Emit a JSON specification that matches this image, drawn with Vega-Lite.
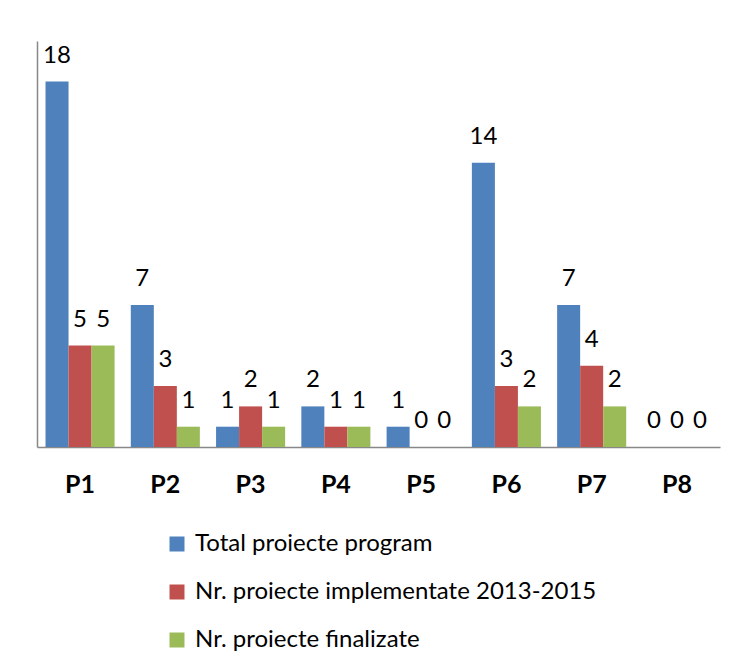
{
  "$schema": "https://vega.github.io/schema/vega-lite/v6.json",
  "width": 683,
  "height": 406,
  "autosize": {"type": "none"},
  "padding": {"left": 37, "top": 41, "right": 23, "bottom": 224},
  "background": "white",
  "config": {
    "view": {"stroke": null},
    "font": "Lato"
  },
  "data": {
    "values": [
      {"cat": "P1", "serie": "Total proiecte program", "o": 1, "v": 18},
      {"cat": "P1", "serie": "Nr. proiecte implementate 2013-2015", "o": 2, "v": 5},
      {"cat": "P1", "serie": "Nr. proiecte finalizate", "o": 3, "v": 5},
      {"cat": "P2", "serie": "Total proiecte program", "o": 1, "v": 7},
      {"cat": "P2", "serie": "Nr. proiecte implementate 2013-2015", "o": 2, "v": 3},
      {"cat": "P2", "serie": "Nr. proiecte finalizate", "o": 3, "v": 1},
      {"cat": "P3", "serie": "Total proiecte program", "o": 1, "v": 1},
      {"cat": "P3", "serie": "Nr. proiecte implementate 2013-2015", "o": 2, "v": 2},
      {"cat": "P3", "serie": "Nr. proiecte finalizate", "o": 3, "v": 1},
      {"cat": "P4", "serie": "Total proiecte program", "o": 1, "v": 2},
      {"cat": "P4", "serie": "Nr. proiecte implementate 2013-2015", "o": 2, "v": 1},
      {"cat": "P4", "serie": "Nr. proiecte finalizate", "o": 3, "v": 1},
      {"cat": "P5", "serie": "Total proiecte program", "o": 1, "v": 1},
      {"cat": "P5", "serie": "Nr. proiecte implementate 2013-2015", "o": 2, "v": 0},
      {"cat": "P5", "serie": "Nr. proiecte finalizate", "o": 3, "v": 0},
      {"cat": "P6", "serie": "Total proiecte program", "o": 1, "v": 14},
      {"cat": "P6", "serie": "Nr. proiecte implementate 2013-2015", "o": 2, "v": 3},
      {"cat": "P6", "serie": "Nr. proiecte finalizate", "o": 3, "v": 2},
      {"cat": "P7", "serie": "Total proiecte program", "o": 1, "v": 7},
      {"cat": "P7", "serie": "Nr. proiecte implementate 2013-2015", "o": 2, "v": 4},
      {"cat": "P7", "serie": "Nr. proiecte finalizate", "o": 3, "v": 2},
      {"cat": "P8", "serie": "Total proiecte program", "o": 1, "v": 0},
      {"cat": "P8", "serie": "Nr. proiecte implementate 2013-2015", "o": 2, "v": 0},
      {"cat": "P8", "serie": "Nr. proiecte finalizate", "o": 3, "v": 0}
    ]
  },
  "encoding": {
    "x": {
      "field": "cat", "type": "nominal", "title": null,
      "scale": {"paddingInner": 0.19, "paddingOuter": 0.1},
      "axis": {
        "labelAngle": 0, "ticks": false, "tickSize": 0,
        "labelFont": "Lato", "labelFontSize": 25, "labelFontWeight": "bold",
        "labelColor": "black", "labelBaseline": "alphabetic", "labelPadding": 45,
        "domainColor": "#888888", "domainWidth": 1.5
      }
    },
    "xOffset": {
      "field": "serie", "type": "nominal",
      "sort": ["Total proiecte program", "Nr. proiecte implementate 2013-2015", "Nr. proiecte finalizate"],
      "scale": {"paddingInner": 0, "paddingOuter": 0}
    },
    "y": {
      "field": "v", "type": "quantitative", "title": null,
      "scale": {"domain": [0, 20], "nice": false},
      "axis": {"labels": false, "ticks": false, "grid": false, "domainColor": "#888888", "domainWidth": 1.5}
    }
  },
  "layer": [
    {
      "mark": {"type": "bar"},
      "encoding": {
        "color": {
          "field": "serie", "type": "nominal",
          "sort": ["Total proiecte program", "Nr. proiecte implementate 2013-2015", "Nr. proiecte finalizate"],
          "scale": {
            "domain": ["Total proiecte program", "Nr. proiecte implementate 2013-2015", "Nr. proiecte finalizate"],
            "range": ["#4F81BD", "#C0504D", "#9BBB59"]
          },
          "legend": {
            "title": null, "orient": "none", "legendX": 128, "legendY": 491,
            "direction": "vertical", "symbolType": "square", "symbolSize": 225,
            "symbolStrokeWidth": 0, "symbolOpacity": 1,
            "labelFont": "Lato", "labelFontSize": 24, "labelColor": "black",
            "labelOffset": 6, "rowPadding": 24, "padding": 0, "labelLimit": 500
          }
        }
      }
    },
    {
      "mark": {"type": "text", "baseline": "alphabetic", "dy": -19, "fontSize": 24, "font": "Lato", "color": "black"},
      "encoding": {"text": {"field": "v", "type": "quantitative"}}
    }
  ]
}
